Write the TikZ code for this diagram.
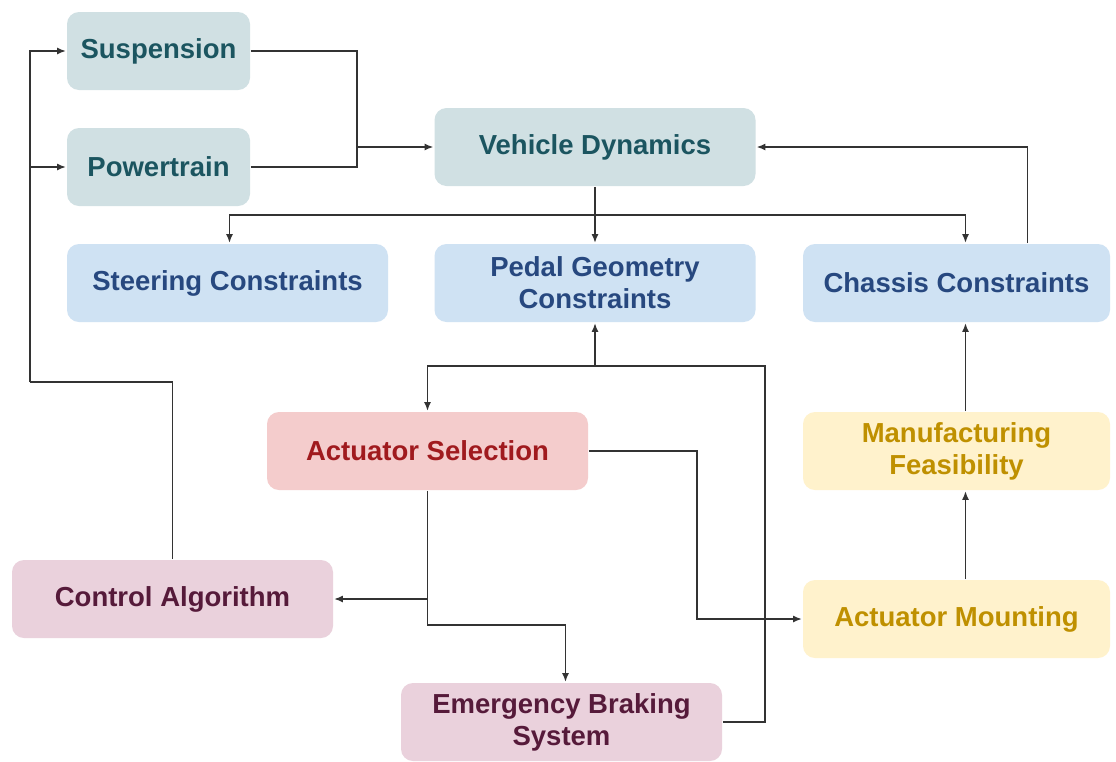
\documentclass[tikz,border=0pt]{standalone}
\usepackage{fontspec}
\setmainfont{Liberation Sans}
\usepackage{tikz}
\usetikzlibrary{arrows.meta, positioning}

\definecolor{tealfill}{HTML}{D0E0E3}
\definecolor{tealtext}{HTML}{1B5560}
\definecolor{bluefill}{HTML}{CFE2F3}
\definecolor{bluetext}{HTML}{27487F}
\definecolor{redfill}{HTML}{F4CCCC}
\definecolor{redtext}{HTML}{A01A1E}
\definecolor{yellowfill}{HTML}{FFF2CC}
\definecolor{yellowtext}{HTML}{BF9000}
\definecolor{pinkfill}{HTML}{EAD1DC}
\definecolor{pinktext}{HTML}{561A3A}
\definecolor{linegray}{HTML}{333333}

\begin{document}
\begin{tikzpicture}[x=1pt, y=-1pt, line width=1.8pt, draw=linegray,
        >={Latex[length=9pt, width=7pt]},
        box/.style = {rounded corners=12pt, align=center, inner sep=0pt,
                        minimum width=321pt, minimum height=78pt,
                        font=\bfseries\fontsize{27.5}{32}\selectfont},
        dyn/.style = {box, fill=tealfill, text=tealtext},
        cons/.style = {box, fill=bluefill, text=bluetext},
        sel/.style = {box, fill=redfill, text=redtext},
        mfg/.style = {box, fill=yellowfill, text=yellowtext, minimum width=307pt},
        ctl/.style = {box, fill=pinkfill, text=pinktext}]
        \useasboundingbox[fill=white] (0,0) rectangle (1116,761);

        \node[dyn, minimum width=183pt] (susp) at (158.5,51) {Suspension};
        \node[dyn, minimum width=183pt] (power) at (158.5,167) {Powertrain};
        \node[dyn] (vdyn) at (595,147) {Vehicle Dynamics};

        \node[cons] (steer) at (227.5,283) {Steering Constraints};
        \node[cons] (pedal) at (595,283) {Pedal Geometry\\Constraints};
        \node[cons, minimum width=307pt] (chassis) at (956.5,283) {Chassis Constraints};

        \node[sel] (actsel) at (427.5,451) {Actuator Selection};
        \node[mfg] (manuf) at (956.5,451) {Manufacturing\\Feasibility};

        \node[ctl] (ctrl) at (172.5,599) {Control Algorithm};
        \node[mfg] (mount) at (956.5,619) {Actuator Mounting};
        \node[ctl] (ebrake) at (561.5,722) {Emergency Braking\\System};

        \coordinate (jsp) at (357,147);
        \coordinate (jvd) at (595,215);
        \coordinate (jpd) at (595,366);
        \coordinate (jeb) at (765,722);
        \coordinate (jct) at (30,382);
        \coordinate (jas) at (427.5,599);
        \coordinate (jam) at (697,451);

        \draw (susp.east) -| (jsp);
        \draw (power.east) -| (jsp);
        \draw[->] (jsp) -- (vdyn.west);

        \draw (vdyn.south) -- (jvd);
        \draw[->] (jvd) -- (pedal.north);
        \draw[->] (jvd) -| ([xshift=2]steer.north);
        \draw[->] (jvd) -| ([xshift=9]chassis.north);
        \draw[->] ([xshift=71]chassis.north) |- (vdyn.east);

        \draw[->] (jpd) -- (pedal.south);
        \draw[->] (jpd) -| (actsel.north);
        \draw (ebrake.east) -- (jeb) |- (jpd);

        \draw (ctrl.north) |- (jct);
        \draw[->] (jct) |- (susp.west);
        \draw[->] (jct |- power.west) -- (power.west);

        \draw (actsel.south) -- (jas);
        \draw[->] (jas) -- (ctrl.east);
        \draw[->] (jas) -- ++(0,26) -| ([xshift=4]ebrake.north);
        \draw[->] (actsel.east) -- (jam) |- (mount.west);

        \draw[->] ([xshift=9]mount.north) -- ([xshift=9]manuf.south);
        \draw[->] ([xshift=9]manuf.north) -- ([xshift=9]chassis.south);
    \end{tikzpicture}
\end{document}
